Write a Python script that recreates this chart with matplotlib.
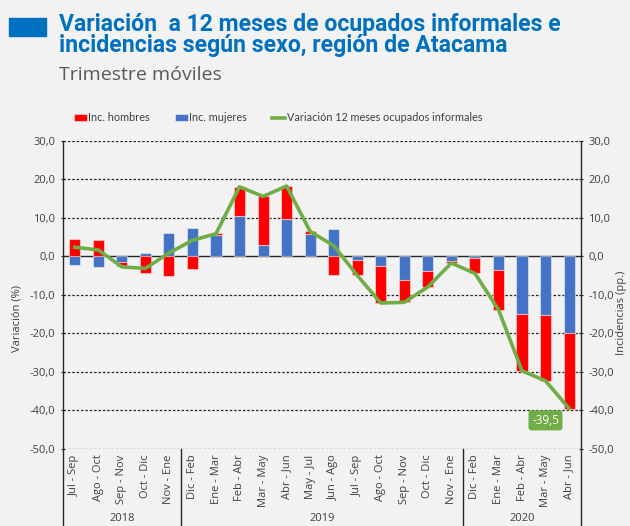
import numpy as np
import matplotlib.pyplot as plt
from matplotlib.patches import Rectangle

# trimestres moviles
periodos = ['Jul - Sep', 'Ago - Oct', 'Sep - Nov', 'Oct - Dic', 'Nov - Ene',
            'Dic - Feb', 'Ene - Mar', 'Feb - Abr', 'Mar - May', 'Abr - Jun',
            'May - Jul', 'Jun - Ago', 'Jul - Sep', 'Ago - Oct', 'Sep - Nov',
            'Oct - Dic', 'Nov - Ene', 'Dic - Feb', 'Ene - Mar', 'Feb - Abr',
            'Mar - May', 'Abr - Jun']
anios = ['2018', '2019', '2020']
n_por_anio = [5, 12, 5]

inc_hombres = [4.6, 4.3, -1.2, -4.4, -5.2, -3.2, 0.3, 7.7, 12.6, 8.5, 0.8,
               -4.9, -4.0, -9.6, -5.7, -4.0, -0.6, -4.1, -10.4, -14.7, -17.1, -19.6]
inc_mujeres = [-2.2, -2.7, -1.4, 1.0, 6.1, 7.3, 5.7, 10.4, 3.0, 9.8, 5.8,
               7.1, -0.9, -2.5, -6.2, -3.9, -1.1, -0.3, -3.4, -15.0, -15.2, -19.9]
variacion = [2.4, 1.7, -2.7, -3.1, 0.9, 4.2, 5.9, 18.1, 15.6, 18.3, 6.5,
             2.8, -4.9, -12.1, -11.9, -7.9, -1.7, -4.4, -13.8, -29.7, -32.3, -39.5]

ROJO = '#ff0000'
AZUL = '#4472c4'
VERDE = '#70ad47'
FONDO = '#f2f2f2'
GRIS = '#404040'
TITULO = '#0070c0'

plt.rcParams['font.family'] = ['Open Sans', 'DejaVu Sans']

fig = plt.figure(figsize=(6.3, 5.26), dpi=100, facecolor=FONDO)
ax = fig.add_axes([0.1, 0.1464, 0.822, 0.5856], facecolor=FONDO)

x = np.arange(len(periodos))
pos = np.zeros(len(x))
neg = np.zeros(len(x))
barras = {}
# mujeres first (closest to zero), then hombres stacked on top
for vals, col, lab in [(inc_mujeres, AZUL, 'Inc. mujeres'), (inc_hombres, ROJO, 'Inc. hombres')]:
    v = np.array(vals)
    base = np.where(v >= 0, pos, neg)
    barras[lab] = ax.bar(x, v, bottom=base, width=0.47, color=col,
                         edgecolor=(1, 1, 1, 0.45), linewidth=0.8, zorder=3)
    pos = pos + np.where(v >= 0, v, 0)
    neg = neg + np.where(v < 0, v, 0)

linea, = ax.plot(x, variacion, color=VERDE, lw=2.6, zorder=4)

ax.set_xlim(-0.5, len(x) - 0.5)
ax.set_ylim(-50, 30)
yt = np.arange(-50, 31, 10)
ax.set_yticks(yt)
ax.set_yticklabels([f'{v:.1f}'.replace('.', ',') for v in yt], color=GRIS, fontsize=8)
for v in yt:
    if v == 0:
        ax.axhline(0, color='#262626', lw=1.0, zorder=2)
    else:
        ax.axhline(v, color='#262626', lw=0.9, ls=(0, (2, 1.5)), zorder=1)

ax.tick_params(axis='y', length=3, direction='inout', colors='#262626', labelcolor=GRIS,
               labelright=True, right=True, pad=4)
ax.set_xticks(x)
ax.set_xticklabels(periodos, rotation=90, fontsize=8, color=GRIS)
ax.tick_params(axis='x', length=0, pad=4)
for s in ['top', 'bottom']:
    ax.spines[s].set_visible(False)
for s in ['left', 'right']:
    ax.spines[s].set_color('#262626')
    ax.spines[s].set_linewidth(1.0)

# separadores de anio y etiquetas
tr = ax.get_xaxis_transform()
limites = np.concatenate([[0], np.cumsum(n_por_anio)]) - 0.5
for b in limites:
    ax.plot([b, b], [0, -0.26], transform=tr, color='#262626', lw=1.0, clip_on=False)
for i, a in enumerate(anios):
    ax.text((limites[i] + limites[i + 1]) / 2, -0.225, a, transform=tr, ha='center',
            va='center', fontsize=8, color=GRIS)

ax.annotate(f'{variacion[-1]:.1f}'.replace('.', ','), xy=(x[-1], variacion[-1]),
            xytext=(-17, -8.5), textcoords='offset points', ha='center', va='center',
            fontsize=8.5, color='white',
            bbox=dict(boxstyle='round,pad=0.3,rounding_size=0.25', fc=VERDE, ec='none'),
            zorder=6)

fig.text(0.027, 0.395, 'Variación (%)', rotation=90, ha='center', va='center',
         fontsize=8, color=GRIS)
fig.text(0.986, 0.405, 'Incidencias (pp.)', rotation=90, ha='center', va='center',
         fontsize=8, color=GRIS)

ax.legend([barras['Inc. hombres'], barras['Inc. mujeres'], linea],
          ['Inc. hombres', 'Inc. mujeres', 'Variación 12 meses ocupados informales'],
          loc='center', bbox_to_anchor=(0.415, 1.075), ncol=3, frameon=False,
          prop={'family': ['Lato', 'DejaVu Sans'], 'size': 7.8},
          handlelength=1.2, handletextpad=0.15, columnspacing=2.3, labelcolor=GRIS)

# titulo
fig.patches.append(Rectangle((0.0143, 0.9316), 0.0587, 0.0342, transform=fig.transFigure,
                             color=TITULO))
tfam = ['Liberation Sans Narrow', 'Roboto', 'DejaVu Sans']
fig.text(0.094, 0.941, 'Variación  a 12 meses de ocupados informales e', ha='left',
         va='baseline', fontsize=16.6, fontweight='bold', color=TITULO, family=tfam)
fig.text(0.094, 0.901, 'incidencias según sexo, región de Atacama', ha='left',
         va='baseline', fontsize=16.6, fontweight='bold', color=TITULO, family=tfam)
fig.text(0.094, 0.848, 'Trimestre móviles', ha='left', va='baseline', fontsize=14,
         color='#595959')

fig.savefig('out.png', dpi=100, facecolor=FONDO)
